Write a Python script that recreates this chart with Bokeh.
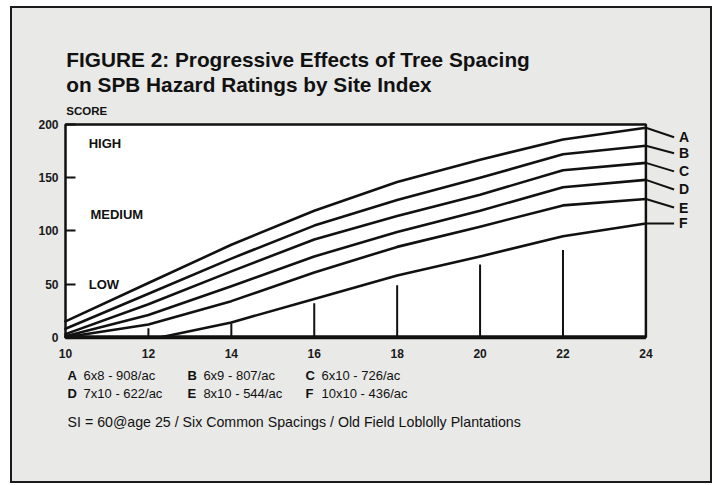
from bokeh.plotting import figure
from bokeh.models import Range1d, FixedTicker
from bokeh.core.properties import value
from bokeh.embed import file_html
from bokeh.resources import INLINE

# ---- data ----
site_index = [10, 12, 14, 16, 18, 20, 22, 24]
score_a = [15, 51, 87, 119, 146, 167, 186, 197]
score_b = [8, 41, 74, 105, 129, 150, 172, 180]
score_c = [3, 31, 62, 92, 114, 134, 157, 164]
score_d = [1, 21, 48, 76, 99, 119, 141, 148]
score_e = [0, 12, 34, 61, 85, 104, 124, 130]
site_index_f = [12.3, 14, 16, 18, 20, 22, 24]
score_f = [0, 14, 36, 58, 76, 95, 107]

series_names = ["A", "B", "C", "D", "E", "F"]
legend_texts = ["6x8 - 908/ac", "6x9 - 807/ac", "6x10 - 726/ac",
                "7x10 - 622/ac", "8x10 - 544/ac", "10x10 - 436/ac"]

bar_x = [12, 14, 16, 18, 20, 22]
bar_h = [8.5, 13, 32, 49, 68.5, 82]

zone_names = ["HIGH", "MEDIUM", "LOW"]

x_ticks = [10, 12, 14, 16, 18, 20, 22, 24]
y_ticks = [0, 50, 100, 150, 200]

title_1 = "FIGURE 2: Progressive Effects of Tree Spacing"
title_2 = "on SPB Hazard Ratings by Site Index"
y_title = "SCORE"
footnote = "SI = 60@age 25 / Six Common Spacings / Old Field Loblolly Plantations"

PAPER = "#e9e9e7"
INK = "#111111"
FONT = "Liberation Sans"

p = figure(frame_width=661, frame_height=400,
           min_border_left=18, min_border_right=19,
           min_border_top=32, min_border_bottom=41,
           x_range=Range1d(9.1556, 25.1), y_range=Range1d(-97, 279),
           output_backend="svg", toolbar_location=None, tools="")
p.styles = {"border": "2px solid #1b1b1b", "margin": "6px 0px 0px 10px",
            "background-color": PAPER}
p.border_fill_color = PAPER
p.background_fill_color = PAPER
p.background_fill_alpha = 0
p.outline_line_color = None
p.grid.visible = False

# plot box
p.quad(left=[x_ticks[0]], right=[x_ticks[-1]], bottom=[y_ticks[0]], top=[y_ticks[-1]],
       fill_color="white", line_color=INK, line_width=2.5)
p.segment(x0=[x_ticks[0]], y0=[0], x1=[x_ticks[-1]], y1=[0], line_color=INK, line_width=4)

# vertical bars
p.segment(x0=bar_x, y0=[0] * len(bar_x), x1=bar_x, y1=bar_h, line_color=INK, line_width=2)

# curves
curves = [(site_index, score_a), (site_index, score_b), (site_index, score_c),
          (site_index, score_d), (site_index, score_e), (site_index_f, score_f)]
for xs, ys in curves:
    p.line(xs, ys, line_color=INK, line_width=2.6, line_join="round", line_cap="round")

# leader lines and letters (layout positions)
letter_y = [188, 173, 156, 139, 122, 107]
end_x = [c[0][-1] for c in curves]
end_y = [c[1][-1] for c in curves]
p.segment(x0=end_x, y0=end_y, x1=[e + 0.68 for e in end_x], y1=letter_y,
          line_color=INK, line_width=2)
p.text(x=[e + 0.8 for e in end_x], y=letter_y, text=series_names,
       text_font=value(FONT), text_font_style="bold", text_font_size="14px",
       text_baseline="middle", text_align="left", text_color=INK)

# zone labels
p.text(x=[10.56, 10.6, 10.56], y=[182, 115.5, 50], text=zone_names,
       text_font=value(FONT), text_font_style="bold", text_font_size="13px",
       text_baseline="middle", text_align="left", text_color=INK)

# title and y label
p.text(x=[10.02, 10.02], y=[261.3, 237.4], text=[title_1, title_2],
       text_font=value(FONT), text_font_style="bold", text_font_size="20.8px",
       text_baseline="middle", text_align="left", text_color=INK)
p.text(x=[10.02], y=[212.4], text=[y_title],
       text_font=value(FONT), text_font_style="bold", text_font_size="11.5px",
       text_baseline="middle", text_align="left", text_color=INK)

# legend block below the chart
col_x = [10.05, 12.94, 15.79]
row_y = [-35.7, -52.6]
lx = [col_x[i % 3] for i in range(6)]
ly = [row_y[i // 3] for i in range(6)]
p.text(x=lx, y=ly, text=series_names, text_font=value(FONT), text_font_style="bold",
       text_font_size="13px", text_baseline="middle", text_align="left", text_color=INK)
p.text(x=[v + 0.386 for v in lx], y=ly, text=legend_texts, text_font=value(FONT),
       text_font_size="13px", text_baseline="middle", text_align="left", text_color=INK)
p.text(x=[10.05], y=[-79.9], text=[footnote], text_font=value(FONT),
       text_font_size="14.2px", text_baseline="middle", text_align="left", text_color=INK)

# axes, drawn at the box edges
p.xaxis.ticker = FixedTicker(ticks=x_ticks)
p.yaxis.ticker = FixedTicker(ticks=y_ticks)
p.xaxis.fixed_location = 0
p.yaxis.fixed_location = 10
for ax in (p.xaxis[0], p.yaxis[0]):
    ax.axis_line_color = None
    ax.minor_tick_line_color = None
    ax.major_label_text_font = FONT
    ax.major_label_text_font_style = "bold"
    ax.major_label_text_font_size = "12px"
    ax.major_label_text_color = "#1a1a1a"
p.xaxis.major_tick_line_color = None
p.xaxis.major_label_standoff = 6
p.yaxis.major_tick_in = 10
p.yaxis.major_tick_out = 0
p.yaxis.major_tick_line_width = 2
p.yaxis.major_tick_line_color = INK
p.yaxis.major_label_standoff = 7

open("out.html", "w").write(file_html(p, INLINE))
